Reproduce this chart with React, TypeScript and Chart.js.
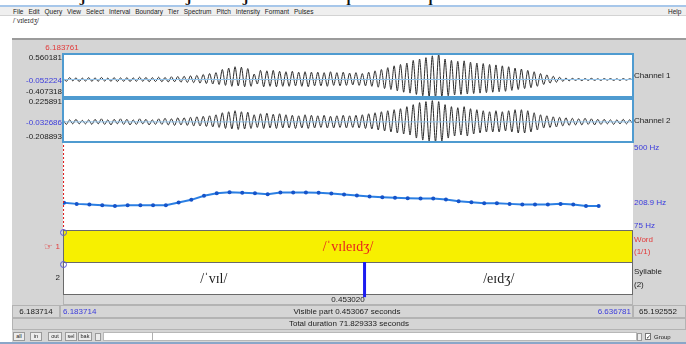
import React, { useEffect, useRef } from "react";
import { Chart, registerables } from "chart.js";

Chart.register(...registerables);

const SANS = '"Liberation Sans", Arial, Helvetica, sans-serif';
const SERIF = '"Liberation Serif", "Times New Roman", "DejaVu Serif", serif';
const GRAY = "#d5d5d5";
const BLUE_TXT = "#3b3bdc";
const RED_TXT = "#e23a3a";

// ---- time window ----
const viewStart = 6.183714;
const viewEnd = 6.636781;
const cursorTime = 6.183761;
const totalStart = 0;
const totalEnd = 71.829333;

// ---- axis ranges / tick labels ----
const ch1Range = [-0.407318, 0.560181];
const ch2Range = [-0.208893, 0.225891];
const ch1CursorValue = -0.052224;
const ch2CursorValue = -0.032686;
const pitchRange = [75, 500];
const pitchMarker = 208.9;

// ---- waveform peaks (successive extrema) ----
const waveStart = 6.1839;
const waveStep = 0.002529;
const ch1Peaks = [
  0.03, -0.04, 0.04, -0.03, 0.035, -0.045, 0.03, -0.035, 0.04, -0.04,
  0.035, -0.04, 0.045, -0.035, 0.03, -0.04, 0.04, -0.045, 0.035, -0.04,
  0.04, -0.045, 0.035, -0.04, 0.05, -0.04, 0.045, -0.05, 0.04, -0.045,
  0.05, -0.05, 0.045, -0.055, 0.06, -0.05, 0.065, -0.06, 0.07, -0.065,
  0.08, -0.07, 0.09, -0.08, 0.11, -0.09, 0.13, -0.1, 0.15, -0.11,
  0.22, -0.13, 0.25, -0.15, 0.28, -0.14, 0.27, -0.16, 0.24, -0.15,
  0.12, -0.1, 0.2, -0.16, 0.19, -0.15, 0.2, -0.16, 0.18, -0.15,
  0.17, -0.15, 0.18, -0.14, 0.16, -0.15, 0.17, -0.16, 0.16, -0.14,
  0.16, -0.14, 0.15, -0.15, 0.17, -0.13, 0.15, -0.14, 0.16, -0.13,
  0.14, -0.12, 0.15, -0.13, 0.13, -0.14, 0.16, -0.15, 0.19, -0.17,
  0.22, -0.2, 0.26, -0.22, 0.3, -0.25, 0.33, -0.28, 0.36, -0.3,
  0.42, -0.33, 0.45, -0.36, 0.48, -0.38, 0.52, -0.4, 0.56, -0.39,
  0.45, -0.36, 0.42, -0.34, 0.4, -0.33, 0.41, -0.32, 0.38, -0.31,
  0.36, -0.3, 0.35, -0.29, 0.33, -0.28, 0.32, -0.27, 0.3, -0.26,
  0.28, -0.24, 0.25, -0.22, 0.23, -0.2, 0.2, -0.18, 0.17, -0.15,
  0.13, -0.11, 0.1, -0.08, 0.07, -0.06, 0.05, -0.04, 0.03, -0.03,
  0.025, -0.02, 0.02, -0.025, 0.02, -0.02, 0.025, -0.02, 0.015, -0.02,
  0.02, -0.015, 0.02, -0.02, 0.015, -0.02, 0.02, -0.015, 0.015, -0.01,
];
const ch2Peaks = [
  0.02, -0.025, 0.02, -0.02, 0.025, -0.02, 0.015, -0.02, 0.02, -0.025,
  0.025, -0.02, 0.03, -0.025, 0.02, -0.03, 0.025, -0.02, 0.03, -0.025,
  0.025, -0.03, 0.02, -0.025, 0.03, -0.02, 0.025, -0.03, 0.02, -0.025,
  0.03, -0.025, 0.035, -0.03, 0.03, -0.035, 0.04, -0.03, 0.04, -0.035,
  0.045, -0.04, 0.05, -0.04, 0.055, -0.045, 0.06, -0.05, 0.07, -0.055,
  0.09, -0.065, 0.1, -0.07, 0.11, -0.075, 0.1, -0.07, 0.095, -0.065,
  0.07, -0.055, 0.08, -0.065, 0.085, -0.06, 0.075, -0.065, 0.08, -0.06,
  0.07, -0.06, 0.065, -0.065, 0.06, -0.06, 0.07, -0.065, 0.065, -0.06,
  0.06, -0.055, 0.065, -0.06, 0.055, -0.06, 0.06, -0.055, 0.065, -0.06,
  0.06, -0.055, 0.065, -0.06, 0.07, -0.065, 0.08, -0.07, 0.09, -0.08,
  0.1, -0.09, 0.11, -0.1, 0.12, -0.11, 0.13, -0.12, 0.15, -0.13,
  0.17, -0.16, 0.19, -0.18, 0.2, -0.19, 0.21, -0.2, 0.2, -0.19,
  0.17, -0.16, 0.15, -0.14, 0.14, -0.13, 0.15, -0.14, 0.13, -0.12,
  0.12, -0.11, 0.11, -0.1, 0.1, -0.1, 0.11, -0.1, 0.1, -0.09,
  0.11, -0.1, 0.12, -0.11, 0.12, -0.11, 0.11, -0.1, 0.09, -0.08,
  0.07, -0.06, 0.06, -0.055, 0.05, -0.05, 0.045, -0.04, 0.04, -0.035,
  0.035, -0.03, 0.03, -0.03, 0.035, -0.025, 0.03, -0.03, 0.025, -0.025,
  0.025, -0.02, 0.02, -0.025, 0.02, -0.02, 0.025, -0.02, 0.02, -0.02,
];

// ---- pitch track ----
const pitchTimes = [
  6.1845, 6.1946, 6.2047, 6.2149, 6.225, 6.2351, 6.2452, 6.2553, 6.2655, 6.2756,
  6.2857, 6.2958, 6.3059, 6.3161, 6.3262, 6.3363, 6.3464, 6.3565, 6.3667, 6.3768,
  6.3869, 6.397, 6.4071, 6.4173, 6.4274, 6.4375, 6.4476, 6.4577, 6.4679, 6.478,
  6.4881, 6.4982, 6.5083, 6.5185, 6.5286, 6.5387, 6.5488, 6.5589, 6.5691, 6.5792,
  6.5893, 6.5994, 6.6095,
];
const pitchHz = [
  210.9, 206.0, 202.5, 199.1, 196.2, 199.1, 199.1, 199.1, 199.1, 212.3,
  225.5, 245.1, 257.7, 262.6, 259.7, 257.7, 252.9, 261.2, 261.2, 261.2,
  259.7, 256.3, 251.4, 246.5, 241.6, 238.2, 235.3, 233.3, 231.9, 231.9,
  227.0, 218.7, 213.8, 208.9, 208.9, 206.0, 202.5, 202.5, 202.5, 206.0,
  202.5, 196.2, 196.2,
];

// ---- text grid ----
const wordBounds = [6.183714, 6.636781];
const wordLabels = ["/ˈvɪleɪdʒ/"];
const syllableBounds = [6.183714, 6.4234, 6.636781];
const syllableLabels = ["/ˈvɪl/", "/eɪdʒ/"];

const menuItems = ["File", "Edit", "Query", "View", "Select", "Interval", "Boundary", "Tier", "Spectrum", "Pitch", "Intensity", "Formant", "Pulses"];
const buttonLabels = ["all", "in", "out", "sel", "bak"];

function baseOptions(yMin: number, yMax: number) {
  return {
    animation: false,
    responsive: false,
    maintainAspectRatio: false,
    events: [],
    layout: { padding: 0, autoPadding: false },
    plugins: { legend: { display: false }, tooltip: { enabled: false } },
    scales: {
      x: { type: "linear", min: viewStart, max: viewEnd, display: false },
      y: { type: "linear", min: yMin, max: yMax, display: false },
    },
  } as any;
}

function waveChart(canvas: HTMLCanvasElement, peaks: number[], range: number[]) {
  return new Chart(canvas, {
    type: "line",
    data: {
      datasets: [
        {
          data: [{ x: viewStart, y: 0 }, { x: viewEnd, y: 0 }],
          borderColor: "#93c3ea",
          borderWidth: 1,
          pointRadius: 0,
        },
        {
          data: peaks.map((v, i) => ({ x: waveStart + i * waveStep, y: v })),
          borderColor: "#2a2a2a",
          borderWidth: 1,
          pointRadius: 0,
          tension: 0.3,
        },
      ],
    } as any,
    options: baseOptions(range[0], range[1]),
  });
}

const tierPlugin = {
  id: "tiers",
  afterDraw(chart: any) {
    const { ctx, scales } = chart;
    const x = scales.x;
    const y = scales.y;
    const tiers = [
      { bounds: wordBounds, labels: wordLabels, top: 2, bottom: 1, fill: "#f7f000", color: "#e8231e" },
      { bounds: syllableBounds, labels: syllableLabels, top: 1, bottom: 0, fill: "#ffffff", color: "#1e1e1e" },
    ];
    ctx.save();
    for (const t of tiers) {
      const y0 = y.getPixelForValue(t.top);
      const y1 = y.getPixelForValue(t.bottom);
      const xa = x.getPixelForValue(t.bounds[0]);
      const xb = x.getPixelForValue(t.bounds[t.bounds.length - 1]);
      ctx.fillStyle = t.fill;
      ctx.fillRect(xa, y0, xb - xa, y1 - y0);
      ctx.strokeStyle = "#6a6a6a";
      ctx.lineWidth = 1;
      ctx.strokeRect(xa + 0.5, Math.round(y0) + 0.5, xb - xa - 1, Math.round(y1 - y0));
      ctx.fillStyle = t.color;
      ctx.font = `14px ${SERIF}`;
      ctx.textAlign = "center";
      ctx.textBaseline = "middle";
      for (let i = 0; i < t.labels.length; i++) {
        const mid = (x.getPixelForValue(t.bounds[i]) + x.getPixelForValue(t.bounds[i + 1])) / 2;
        ctx.fillText(t.labels[i], mid, (y0 + y1) / 2 + 1);
      }
    }
    ctx.strokeStyle = "#1c1cf0";
    ctx.lineWidth = 3;
    for (let i = 1; i < syllableBounds.length - 1; i++) {
      const bx = x.getPixelForValue(syllableBounds[i]);
      ctx.beginPath();
      ctx.moveTo(bx, y.getPixelForValue(1));
      ctx.lineTo(bx, y.getPixelForValue(-0.1));
      ctx.stroke();
    }
    ctx.restore();
  },
};

type TxtProps = { x: number; y: number; children: any; color?: string; size?: number; align?: "left" | "right" | "center"; font?: string };
function Txt({ x, y, children, color = "#1c1c1c", size = 8, align = "left", font = SANS }: TxtProps) {
  const style: any = {
    position: "absolute",
    top: y,
    whiteSpace: "nowrap",
    lineHeight: "1",
    fontSize: size,
    color,
    fontFamily: font,
    transform: "translateY(-50%)",
  };
  if (align === "left") style.left = x;
  else if (align === "right") style.right = 686 - x;
  else {
    style.left = x;
    style.transform = "translate(-50%,-50%)";
  }
  return <div style={style}>{children}</div>;
}

function Box({ x, y, w, h, bg, border, style }: any) {
  return (
    <div
      style={{
        position: "absolute",
        left: x,
        top: y,
        width: w,
        height: h,
        background: bg,
        boxSizing: "border-box",
        border,
        ...style,
      }}
    />
  );
}

export default function App() {
  const ch1Ref = useRef<HTMLCanvasElement>(null);
  const ch2Ref = useRef<HTMLCanvasElement>(null);
  const pitchRef = useRef<HTMLCanvasElement>(null);
  const tierRef = useRef<HTMLCanvasElement>(null);

  useEffect(() => {
    const charts: Chart[] = [];
    charts.push(waveChart(ch1Ref.current!, ch1Peaks, ch1Range));
    charts.push(waveChart(ch2Ref.current!, ch2Peaks, ch2Range));
    charts.push(
      new Chart(pitchRef.current!, {
        type: "line",
        data: {
          datasets: [
            {
              data: [{ x: cursorTime, y: pitchRange[0] }, { x: cursorTime, y: pitchRange[1] }],
              borderColor: "#e02020",
              borderWidth: 2,
              borderDash: [2, 2],
              pointRadius: 0,
              clip: false,
            },
            {
              data: pitchTimes.map((t, i) => ({ x: t, y: pitchHz[i] })),
              borderColor: "#2b7fe3",
              borderWidth: 2,
              pointRadius: 2,
              pointBorderWidth: 0,
              pointBackgroundColor: "#1553c9",
            },
          ],
        } as any,
        options: baseOptions(pitchRange[0], pitchRange[1]),
      })
    );
    charts.push(
      new Chart(tierRef.current!, {
        type: "line",
        data: { datasets: [] },
        options: baseOptions(-0.125, 2),
        plugins: [tierPlugin],
      })
    );
    return () => charts.forEach((c) => c.destroy());
  }, []);

  const blueBorder = "2px solid #4f9bd0";
  const rowBorder = "1px solid #b3b3b3";
  const markStyle: any = { position: "absolute", top: -6, fontSize: 13, fontWeight: 700, fontFamily: SERIF, color: "#111", lineHeight: "1" };

  return (
    <div
      style={{
        position: "absolute",
        left: 0,
        top: 0,
        width: 686,
        height: 344,
        overflow: "hidden",
        background: "#ffffff",
        fontFamily: SANS,
      }}
    >
      {/* cropped marks at very top */}
      {[79, 185, 242].map((mx) => (
        <div key={mx} style={{ ...markStyle, left: mx }}>J</div>
      ))}
      {[346, 428].map((mx) => (
        <div key={mx} style={{ ...markStyle, left: mx }}>I</div>
      ))}
      <Box x={0} y={5} w={686} h={2} bg="#a7c7ea" />
      <Box x={0} y={7} w={686} h={9} bg="#efefef" />
      <Box x={0} y={15} w={686} h={1} bg="#d3d3d3" />
      <div style={{ position: "absolute", left: 13, top: 12, transform: "translateY(-50%)", display: "flex", gap: 4.9, fontSize: 6.5, lineHeight: "1", color: "#222", whiteSpace: "nowrap" }}>
        {menuItems.map((m) => (
          <span key={m}>{m}</span>
        ))}
      </div>
      <Txt x={668} y={12} size={6.5} color="#222">Help</Txt>
      <Txt x={13} y={21} size={6.5} color="#333">{wordLabels[0]}</Txt>

      {/* window body */}
      <Box x={12} y={38} w={674} h={2} bg="#9b9b9b" />
      <Box x={12} y={40} w={674} h={304} bg={GRAY} />
      <Box x={63} y={53} w={570} h={178} bg="#ffffff" />

      {/* charts */}
      <canvas ref={ch1Ref} width={570} height={44} style={{ position: "absolute", left: 63, top: 54, width: 570, height: 44 }} />
      <canvas ref={ch2Ref} width={570} height={44} style={{ position: "absolute", left: 63, top: 99, width: 570, height: 44 }} />
      <canvas ref={pitchRef} width={570} height={88} style={{ position: "absolute", left: 63, top: 143, width: 570, height: 88 }} />

      <Box x={62} y={53} w={572} h={45} border={blueBorder} />
      <Box x={62} y={98} w={572} h={45} border={blueBorder} />

      {/* bottom rows */}
      <Box x={63} y={294} w={570} h={11} bg="#d9d9d9" border={rowBorder} />
      <Box x={12} y={305} w={48} h={13} bg={GRAY} border={rowBorder} />
      <Box x={60} y={305} w={573} h={13} bg={GRAY} border={rowBorder} />
      <Box x={633} y={305} w={53} h={13} bg={GRAY} border={rowBorder} />
      <Box x={12} y={318} w={674} h={12} bg={GRAY} border={rowBorder} />

      <canvas ref={tierRef} width={570} height={68} style={{ position: "absolute", left: 63, top: 230, width: 570, height: 68 }} />

      {/* tier circles */}
      <div style={{ position: "absolute", left: 60, top: 229, width: 7, height: 7, borderRadius: "50%", border: "1px solid #5b5bd6", boxSizing: "border-box" }} />
      <div style={{ position: "absolute", left: 60, top: 261, width: 7, height: 7, borderRadius: "50%", border: "1px solid #5b5bd6", boxSizing: "border-box" }} />

      {/* left labels */}
      <Txt x={62} y={48} color={RED_TXT} align="center">{cursorTime.toFixed(6)}</Txt>
      <Txt x={62} y={58} align="right">{ch1Range[1].toFixed(6)}</Txt>
      <Txt x={62} y={81} align="right" color={BLUE_TXT}>{ch1CursorValue.toFixed(6)}</Txt>
      <Txt x={62} y={92} align="right">{ch1Range[0].toFixed(6)}</Txt>
      <Txt x={62} y={102} align="right">{ch2Range[1].toFixed(6)}</Txt>
      <Txt x={62} y={123} align="right" color={BLUE_TXT}>{ch2CursorValue.toFixed(6)}</Txt>
      <Txt x={62} y={136.5} align="right">{ch2Range[0].toFixed(6)}</Txt>
      <Txt x={44} y={246.5} color={RED_TXT} size={10} font='"DejaVu Sans", sans-serif'>☞</Txt>
      <Txt x={60} y={246.5} align="right" color={RED_TXT}>1</Txt>
      <Txt x={60} y={278} align="right" color="#222">2</Txt>

      {/* right labels */}
      <Txt x={634} y={76}>Channel 1</Txt>
      <Txt x={634} y={120.5}>Channel 2</Txt>
      <Txt x={634} y={147.5} color={BLUE_TXT}>{pitchRange[1]} Hz</Txt>
      <Txt x={634} y={203} color={BLUE_TXT}>{pitchMarker} Hz</Txt>
      <Txt x={634} y={226} color={BLUE_TXT}>{pitchRange[0]} Hz</Txt>
      <Txt x={634} y={240} color={RED_TXT}>Word</Txt>
      <Txt x={634} y={251.5} color={RED_TXT}>(1/1)</Txt>
      <Txt x={634} y={272} color="#222">Syllable</Txt>
      <Txt x={634} y={284.5} color="#222">(2)</Txt>

      {/* time rows */}
      <Txt x={348} y={299.5} align="center">{(viewEnd - cursorTime).toFixed(6)}</Txt>
      <Txt x={36} y={311.5} align="center">{viewStart.toFixed(6)}</Txt>
      <Txt x={63} y={311.5} color={BLUE_TXT}>{viewStart.toFixed(6)}</Txt>
      <Txt x={347} y={311.5} align="center">Visible part {(viewEnd - viewStart).toFixed(6)} seconds</Txt>
      <Txt x={631} y={311.5} align="right" color={BLUE_TXT}>{viewEnd.toFixed(6)}</Txt>
      <Txt x={658} y={311.5} align="center">{(totalEnd - viewEnd).toFixed(6)}</Txt>
      <Txt x={349} y={324} align="center">Total duration {(totalEnd - totalStart).toFixed(6)} seconds</Txt>

      {/* buttons / scroll */}
      {buttonLabels.map((b, i) => (
        <div
          key={b}
          style={{
            position: "absolute",
            left: [13, 30, 48, 65, 78][i],
            top: 332,
            width: [12, 12, 14, 12, 14][i],
            height: 9,
            boxSizing: "border-box",
            border: "1px solid #9a9a9a",
            background: "#ececec",
            fontSize: 5.5,
            lineHeight: "7px",
            textAlign: "center",
            color: "#222",
          }}
        >
          {b}
        </div>
      ))}
      <Box x={95} y={333} w={6} h={8} bg="#ececec" border="1px solid #9a9a9a" />
      <Box x={103} y={332} w={534} h={9} bg="#ffffff" border="1px solid #b8b8b8" />
      <Box x={152} y={332} w={1} h={9} bg="#b0b0b0" />
      <Box x={637} y={333} w={5} h={8} bg="#ececec" border="1px solid #9a9a9a" />
      <Box x={645} y={333} w={6} h={7} bg="#ffffff" border="1px solid #777" />
      <Txt x={645.5} y={336.5} size={6} color="#222">✓</Txt>
      <Txt x={654} y={337} size={6} color="#222">Group</Txt>
      <Box x={0} y={342} w={686} h={2} bg="#8aa6c8" />
    </div>
  );
}
